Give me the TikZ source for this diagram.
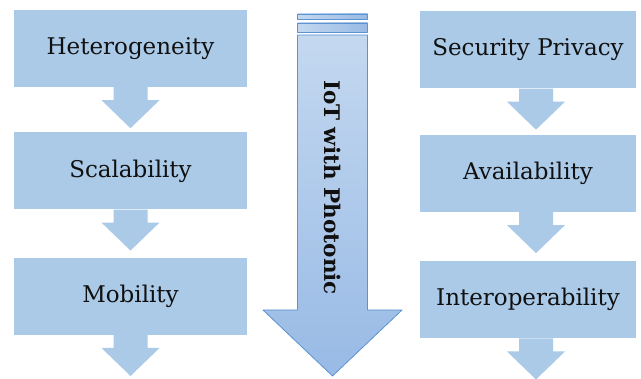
\documentclass[tikz,border=0pt]{standalone}
\usepackage{fontspec}
\setmainfont{DejaVu Serif}
\usetikzlibrary{calc,positioning}
\definecolor{boxfill}{HTML}{ABCAE8}
\definecolor{arrowline}{HTML}{5B93D3}
\definecolor{arrowlight}{HTML}{C4D8F0}
\definecolor{arrowdark}{HTML}{98BAE5}
\definecolor{ink}{HTML}{101010}
\tikzset{
  IssueBox/.style={
    fill=boxfill, draw=none,
    minimum width=233pt, minimum height=77pt,
    inner sep=0pt, text=ink,
    font=\fontsize{23}{26}\selectfont
  },
  RightBox/.style={IssueBox, minimum width=216pt}
}
\newcommand{\DownStep}[2][0]{%
  % #1 = x shift of the arrow, #2 = node above it
  \fill[boxfill] ($(#2.south)+(#1-17,0)$) -- ++(0,13) -- ++(-12,0)
    -- ($(#2.south)+(#1,41)$) -- ($(#2.south)+(#1+29,13)$)
    -- ++(-12,0) -- ++(0,-13) -- cycle;
}

\begin{document}
\begin{tikzpicture}[x=1pt, y=-1pt, line cap=round, line join=round]
  \clip (0,0) rectangle (641,379);
  \useasboundingbox (0,0) rectangle (641,379);

  % left column
  \node[IssueBox] (het) at (130.5,48.5) {Heterogeneity};
  \node[IssueBox, below=45pt of het] (scal) {Scalability};
  \node[IssueBox, below=48pt of scal] (mob) {Mobility};
  \DownStep{het}
  \DownStep{scal}
  \DownStep{mob}

  % right column
  \node[RightBox] (sec) at (528,50) {Security Privacy};
  \node[RightBox, below=46pt of sec] (avail) {Availability};
  \node[RightBox, below=49pt of avail] (inter) {Interoperability};
  \DownStep[8]{sec}
  \DownStep[8]{avail}
  \DownStep[8]{inter}

  % central arrow
  \coordinate (tip) at (332.5,376);
  \shade[left color=arrowlight, right color=arrowdark, draw=arrowline, line width=0.8pt]
    (297.5,14) rectangle (367.5,19);
  \shade[left color=arrowlight, right color=arrowdark, draw=arrowline, line width=0.8pt]
    (297.5,23) rectangle (367.5,32);
  \shade[top color=arrowlight, bottom color=arrowdark, draw=arrowline, line width=0.8pt]
    (297.5,35) -- (367.5,35) -- (367.5,310) -- (402,310) -- (tip)
    -- (263,310) -- (297.5,310) -- cycle;
  \node[rotate=-90, text=ink, font=\bfseries\fontsize{21.5}{24}\selectfont]
    (iot) at (332.5,187.5) {IoT with Photonic};
\end{tikzpicture}
\end{document}
